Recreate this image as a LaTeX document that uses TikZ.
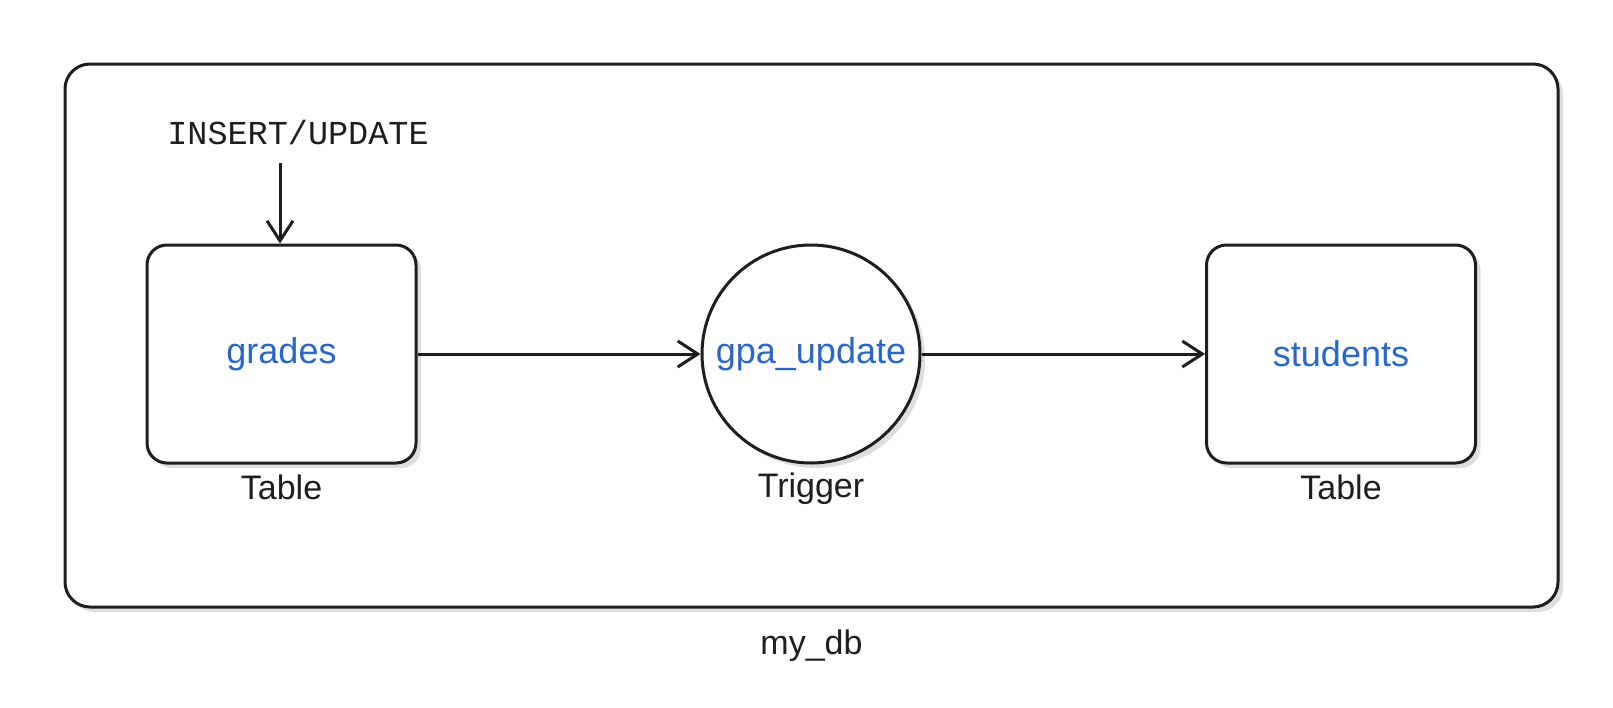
\documentclass[tikz,border=0pt]{standalone}
\usepackage{fontspec}
\setmainfont{Liberation Sans}
\newfontfamily\insfont{Liberation Mono}
\usetikzlibrary{positioning,arrows.meta,shadows}
\definecolor{ink}{HTML}{1E1E1E}
\definecolor{tblue}{HTML}{2A66C9}

\begin{document}
\begin{tikzpicture}[x=1pt, y=-1pt, color=ink, line width=3pt,
	shade/.style={drop shadow={shadow xshift=5pt, shadow yshift=-5pt, fill=black!13, opacity=1}},
	tablebox/.style={draw, fill=white, rounded corners=20pt, minimum width=269pt, minimum height=218pt, inner sep=0, text=tblue, font=\fontsize{36}{40}\selectfont, shade},
	trig/.style={draw, fill=white, circle, minimum size=218pt, inner sep=0, text=tblue, font=\fontsize{36}{40}\selectfont, shade},
	lbl/.style={inner sep=0, font=\fontsize{34}{38}\selectfont},
	flow/.style={-{Straight Barb[length=20pt,width=26pt]}}]
	\useasboundingbox (0,0) rectangle (1613,707);
	
	% database frame
	\node [draw, fill=white, rounded corners=25pt, minimum width=1493pt, minimum height=543pt, shade] (db) at (811.5,335.5) {};
	\node [lbl, below=20pt of db] (dblbl) {my\_db};
	
	\node [tablebox] (grades) at (281.5,354) {grades};
	\node [trig] (gpa) at (811,354) {gpa\_update};
	\node [tablebox] (students) at (1341,354) {students};
	
	\node [lbl, below=9pt of grades] (gradeslbl) {Table};
	\node [lbl, below=7pt of gpa] (gpalbl) {Trigger};
	\node [lbl, below=9pt of students] (studentslbl) {Table};
	
	\node [inner sep=0, font=\insfont\fontsize{33.5}{36}\selectfont] (ins) at (298,133) {INSERT/UPDATE};
	\coordinate (src) at (280,163);
	
	\draw [flow] (src) -- (src |- grades.north);
	\draw [flow] (grades) -- (gpa);
	\draw [flow] (gpa) -- (students);
\end{tikzpicture}
\end{document}
